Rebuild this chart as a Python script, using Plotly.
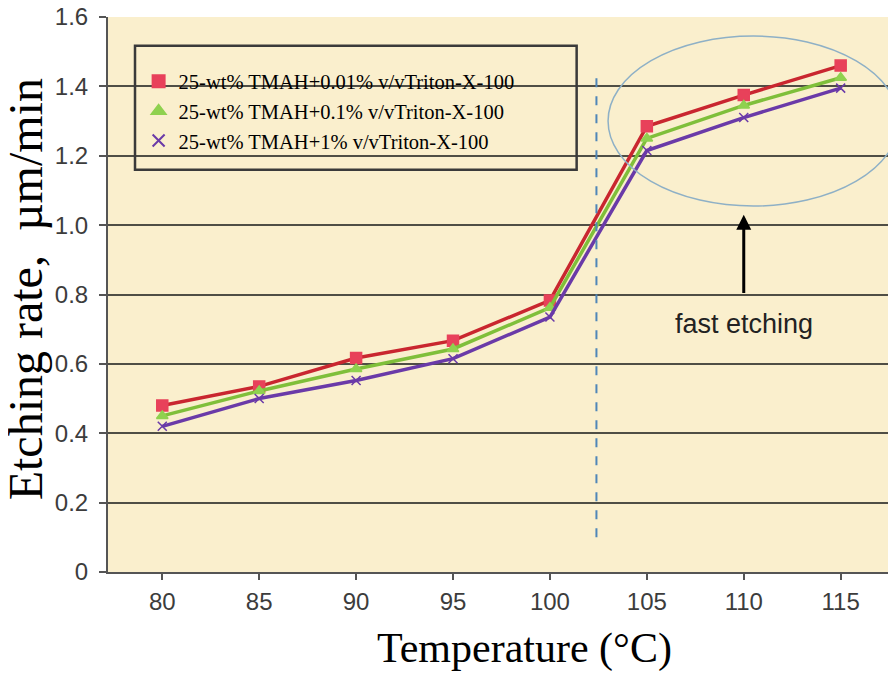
import plotly.graph_objs as go

temps = [80, 85, 90, 95, 100, 105, 110, 115]
rate_001 = [0.48, 0.535, 0.617, 0.667, 0.783, 1.285, 1.375, 1.46]
rate_01 = [0.45, 0.522, 0.585, 0.643, 0.762, 1.25, 1.345, 1.425]
rate_1 = [0.42, 0.50, 0.552, 0.615, 0.735, 1.215, 1.31, 1.395]
labels = ['25-wt% TMAH+0.01% v/vTriton-X-100',
          '25-wt% TMAH+0.1% v/vTriton-X-100',
          '25-wt% TMAH+1% v/vTriton-X-100']
y_ticks = [0, 0.2, 0.4, 0.6, 0.8, 1.0, 1.2, 1.4, 1.6]
y_tick_text = ['0', '0.2', '0.4', '0.6', '0.8', '1.0', '1.2', '1.4', '1.6']

series = [
    (rate_001, '#c9262f', '#e8415a', 'square', 11),
    (rate_01, '#7fbf3a', '#8fd14f', 'triangle-up', 10),
    (rate_1, '#6a3aa8', '#6a3aa8', 'x-thin', 9),
]

fig = go.Figure()
for ys, lc, mc, sym, sz in series:
    fig.add_trace(go.Scatter(x=temps, y=ys, mode='lines+markers', showlegend=False,
                             line=dict(color=lc, width=3.5),
                             marker=dict(symbol=sym, size=sz, color=mc,
                                         line=dict(color=mc, width=1.5))))

# legend entries: markers only
for (ys, lc, mc, sym, sz), lab in zip(series, labels):
    fig.add_trace(go.Scatter(x=[None], y=[None], mode='markers', name=lab,
                             marker=dict(symbol=sym, size=14, color=mc,
                                         line=dict(color=mc, width=2.5))))

# legend frame
fig.add_shape(type='rect', xref='paper', yref='paper', x0=0.0344, x1=0.597, y0=0.725, y1=0.948,
              line=dict(color='#3a3a3a', width=2.5))
# dashed separator
fig.add_shape(type='line', x0=102.4, x1=102.4, y0=0.1, y1=1.43,
              line=dict(color='#4f86b8', width=2, dash='dash'))
# ellipse around fast region
fig.add_shape(type='circle', x0=103.0, x1=118.0, y0=1.055, y1=1.545,
              line=dict(color='#8eb0c6', width=1.5))
fig.add_annotation(x=110, y=1.03, ax=110, ay=0.8, xref='x', yref='y', axref='x', ayref='y',
                   showarrow=True, arrowhead=2, arrowsize=1, arrowwidth=3, arrowcolor='black',
                   text='')
fig.add_annotation(x=110, y=0.715, text='fast etching', showarrow=False,
                   font=dict(family='Liberation Sans, Arial', size=27, color='#222'))

# axis titles
fig.add_annotation(xref='paper', yref='paper', x=-0.104, y=0.51, xanchor='center', yanchor='middle',
                   text='Etching rate,  µm/min', textangle=-90, showarrow=False,
                   font=dict(family='Liberation Serif, Times New Roman', size=48, color='black'))
fig.add_annotation(xref='paper', yref='paper', x=0.531, y=-0.137, xanchor='center', yanchor='middle',
                   text='Temperature (°C)', showarrow=False,
                   font=dict(family='Liberation Serif, Times New Roman', size=42, color='black'))

fig.update_layout(
    width=896, height=677,
    margin=dict(l=100, r=11, t=9, b=113),
    paper_bgcolor='white',
    plot_bgcolor='#faefcd',
    legend=dict(x=0.039, y=0.92, xanchor='left', yanchor='top',
                bgcolor='rgba(0,0,0,0)', borderwidth=0,
                font=dict(family='Liberation Serif, Times New Roman', size=20.5, color='black'),
                tracegroupgap=0, itemsizing='constant', itemwidth=30),
    xaxis=dict(range=[77.2, 117.7], tickvals=temps, showgrid=False, zeroline=False,
               automargin=False, ticklabeloverflow='allow',
               showline=True, linecolor='#555', linewidth=2, ticks='outside', ticklen=6,
               tickcolor='#555', tickwidth=2, ticklabelstandoff=1,
               tickfont=dict(family='Liberation Sans, Arial', size=24, color='#3c3c3c')),
    yaxis=dict(range=[0, 1.6], tickvals=y_ticks, ticktext=y_tick_text,
               showgrid=True, gridcolor='#4f4e45', gridwidth=1.8, zeroline=False,
               automargin=False, ticklabeloverflow='allow',
               showline=True, linecolor='#555', linewidth=2, ticks='outside', ticklen=7,
               tickcolor='#555', tickwidth=2, ticklabelstandoff=6,
               tickfont=dict(family='Liberation Sans, Arial', size=24, color='#3c3c3c')),
)

fig.write_html("out.html")
